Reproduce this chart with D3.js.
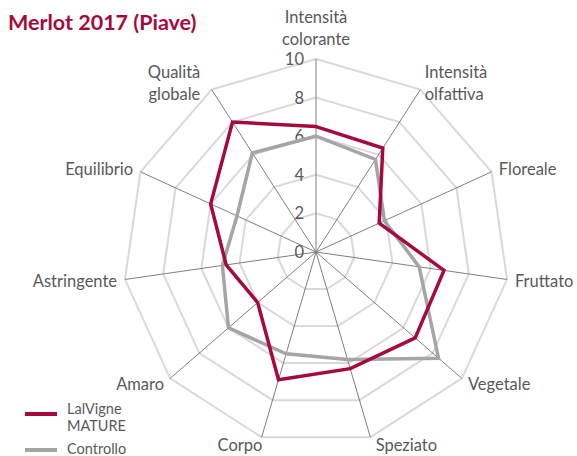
<!DOCTYPE html>
<html>
<head>
<meta charset="utf-8">
<script src="https://cdn.jsdelivr.net/npm/d3@7"></script>
<style>
  body { margin: 0; background: #fff; }
  svg { display: block; font-family: Lato, "Open Sans", sans-serif; }
</style>
</head>
<body>
<svg id="radar"></svg>
<script>
const categories = [
  ["Intensità", "colorante"], ["Intensità", "olfattiva"], ["Floreale"], ["Fruttato"],
  ["Vegetale"], ["Speziato"], ["Corpo"], ["Amaro"], ["Astringente"], ["Equilibrio"],
  ["Qualità", "globale"]
];
const lalvigne = [6.5, 6.4, 3.6, 6.7, 6.8, 6.3, 6.9, 4.0, 4.7, 6.0, 8.0];
const controllo = [6.0, 5.7, 3.9, 5.4, 8.4, 5.8, 5.5, 6.0, 4.9, 4.5, 6.1];
const ticks = [0, 2, 4, 6, 8, 10];
const seriesNames = [["LalVigne", "MATURE"], ["Controllo"]];

const width = 577;
const height = 456;
const cx = 316;
const cy = 252;
const radius = 193;
const red = "#A50A3C";
const grey = "#A5A5A5";
const labelColor = "#595959";

const svg = d3.select("#radar")
  .attr("width", width)
  .attr("height", height);

const rScale = d3.scaleLinear().domain([0, 10]).range([0, radius]);
const angle = d3.scaleLinear().domain([0, categories.length]).range([0, 2 * Math.PI]);

const pt = (i, v) => [cx + rScale(v) * Math.sin(angle(i)), cy - rScale(v) * Math.cos(angle(i))];

// grid rings
svg.append("g")
  .selectAll("polygon")
  .data(ticks.filter(t => t > 0))
  .enter()
  .append("polygon")
  .attr("points", t => categories.map((c, i) => pt(i, t).join(",")).join(" "))
  .attr("fill", "none")
  .attr("stroke", "#D9D9D9")
  .attr("stroke-width", 2);

// spokes
svg.append("g")
  .selectAll("line")
  .data(categories)
  .enter()
  .append("line")
  .attr("x1", cx)
  .attr("y1", cy)
  .attr("x2", (d, i) => pt(i, 10)[0])
  .attr("y2", (d, i) => pt(i, 10)[1])
  .attr("stroke", "#7F7F7F")
  .attr("stroke-width", 1);

// tick labels
svg.append("g")
  .selectAll("text")
  .data(ticks)
  .enter()
  .append("text")
  .attr("x", cx - 12)
  .attr("y", t => cy - rScale(t) + 6)
  .attr("text-anchor", "end")
  .attr("font-size", 16.5)
  .attr("fill", labelColor)
  .text(t => t);

// series
const line = d3.line().curve(d3.curveLinearClosed);
[[controllo, grey], [lalvigne, red]].forEach(([vals, color]) => {
  svg.append("path")
    .attr("d", line(vals.map((v, i) => pt(i, v))))
    .attr("fill", "none")
    .attr("stroke", color)
    .attr("stroke-width", 3.5)
    .attr("stroke-linejoin", "miter");
});

// category labels
const lab = svg.append("g")
  .attr("font-size", 16.5)
  .attr("fill", labelColor);
categories.forEach((lines, i) => {
  const s = Math.sin(angle(i));
  const c = Math.cos(angle(i));
  let [x, y] = pt(i, 10);
  x += 8 * s;
  y -= 8 * c;
  let anchor = s > 0.1 ? "start" : s < -0.1 ? "end" : "middle";
  if (c < -0.9) x += 3;
  if (s < -0.1 && c > 0.5) x -= 7;
  lines.forEach((t, k) => {
    let base;
    if (c > 0.9) base = y - 6 - (lines.length - 1 - k) * 22;
    else base = y + (k - (lines.length - 1) / 2) * 22 + 6;
    lab.append("text")
      .attr("x", x)
      .attr("y", base)
      .attr("text-anchor", anchor)
      .text(t);
  });
});

// title
svg.append("text")
  .attr("x", 8)
  .attr("y", 30)
  .attr("font-size", 21.5)
  .attr("font-weight", "bold")
  .attr("fill", red)
  .text("Merlot 2017 (Piave)");

// legend
const legend = svg.append("g").attr("font-size", 14.5).attr("fill", labelColor);
[[red, 414, 0], [grey, 450, 1]].forEach(([color, y, k]) => {
  legend.append("line")
    .attr("x1", 25).attr("x2", 57)
    .attr("y1", y).attr("y2", y)
    .attr("stroke", color)
    .attr("stroke-width", 4);
  seriesNames[k].forEach((t, j) => {
    legend.append("text")
      .attr("x", 67)
      .attr("y", y + (k === 0 ? 0 : 4) + j * 17)
      .text(t);
  });
});
</script>
</body>
</html>
